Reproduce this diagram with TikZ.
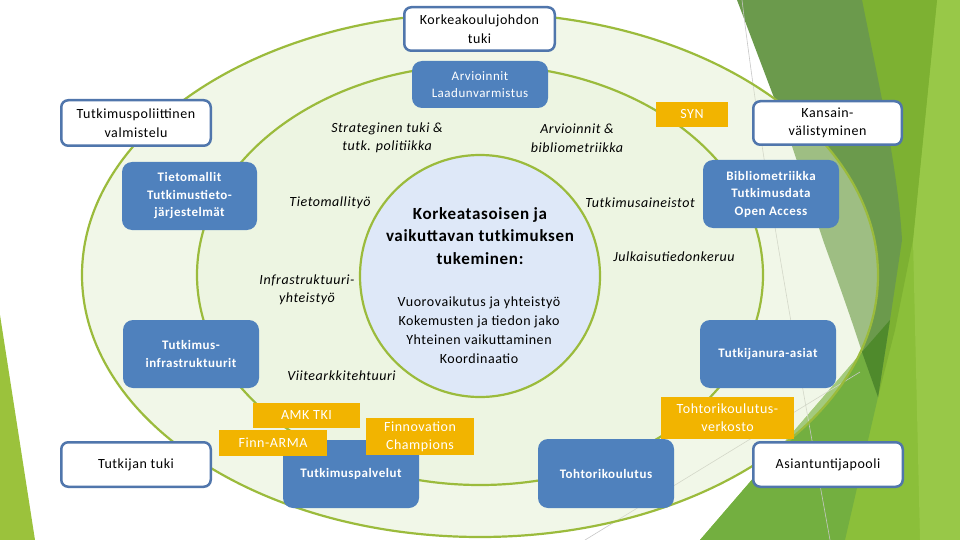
\documentclass[tikz,border=0pt]{standalone}
\usepackage{fontspec}
\setmainfont{Carlito}[LetterSpace=4]
\definecolor{bblue}{RGB}{79,129,189}
\definecolor{bborder}{RGB}{80,118,172}
\definecolor{yel}{RGB}{242,180,0}
\definecolor{eline}{RGB}{155,187,60}
\definecolor{efill}{RGB}{225,237,203}
\definecolor{cfill}{RGB}{222,232,248}
\definecolor{facetdark}{RGB}{107,154,76}
\definecolor{facetmid}{RGB}{125,177,50}
\definecolor{facetbase}{RGB}{139,191,58}
\definecolor{facetlight}{RGB}{152,200,72}
\definecolor{facetmed}{RGB}{115,175,64}
\definecolor{facetdeep}{RGB}{79,138,44}
\definecolor{facetstrip}{RGB}{155,194,60}
\newcommand\fsBox{\fontsize{14}{18.5}\selectfont}
\newcommand\fsBlue{\bfseries\fontsize{13}{17.5}\selectfont}
\newcommand\fsYel{\fontsize{14}{18}\selectfont}
\newcommand\fsIt{\itshape\fontsize{14}{18.5}\selectfont}
\begin{document}
\begin{tikzpicture}[x=1pt,y=-1pt,
  wbox/.style={draw=bborder, line width=2.5pt, fill=white, rounded corners=7pt, text=black, align=center, inner sep=0pt, font=\fsBox},
  bbox/.style={fill=bblue, rounded corners=10pt, text=white, align=center, inner sep=0pt, font=\fsBlue},
  ybox/.style={fill=yel, text=white, align=center, inner sep=0pt, font=\fsYel},
  lbl/.style={align=center, inner sep=0pt, font=\fsIt},
  ring/.style={draw=eline, line width=2.2pt},
  hairline/.style={draw=black!22, line width=0.6pt}
]
\useasboundingbox (0,0) rectangle (960,540);
\fill[white] (0,0) rectangle (960,540);
% background facets
\fill[facetstrip] (0,315) -- (35,540) -- (0,540) -- cycle;
\fill[facetbase] (862,0) rectangle (960,540);
\fill[facetbase] (700,540) -- (862,352) -- (862,540) -- cycle;
\fill[facetlight] (937,0) -- (960,0) -- (960,540) -- (920,540) -- (913,240) -- cycle;
\fill[facetmid] (862,0) -- (937,0) -- (913,240) -- (895,330) -- (878,397) -- cycle;
\fill[facetmed] (700,540) -- (862,352) -- (878,397) -- (845,540) -- cycle;
\fill[facetdark] (737,0) -- (862,0) .. controls (880,90) and (898,170) .. (902,240) -- (890,320) -- (878,397) -- (862,352) .. controls (845,300) and (830,260) .. (823,240) -- (790,140) -- cycle;
\fill[facetdeep] (862,352) -- (890,320) -- (878,397) -- cycle;
\draw[hairline] (742,0) .. controls (760,150) and (790,320) .. (830,540);
\draw[hairline] (585,540) -- (860,372);
% rings
\fill[efill, fill opacity=0.44] (480,275) ellipse [x radius=398pt, y radius=262pt];
\fill[efill, fill opacity=0.2] (480,275) ellipse [x radius=283pt, y radius=210pt];
\draw[ring] (480,275) ellipse [x radius=398pt, y radius=262pt];
\draw[ring] (480,275) ellipse [x radius=283pt, y radius=210pt];
\fill[cfill] (480,276) ellipse [x radius=120pt, y radius=121pt];
\draw[ring] (480,276) ellipse [x radius=120pt, y radius=121pt];
% centre text
\node[align=center, inner sep=0pt, font=\bfseries\fontsize{17}{22.5}\selectfont] (title) at (480,236) {Korkeatasoisen ja\\vaikuttavan tutkimuksen\\tukeminen:};
\node[align=center, inner sep=0pt, font=\fontsize{14}{19}\selectfont] (points) at (479,330.5) {Vuorovaikutus ja yhteistyö\\Kokemusten ja tiedon jako\\Yhteinen vaikuttaminen\\Koordinaatio};
% italic labels
\node[lbl] (strat) at (387,138) {Strateginen tuki \&\\tutk. politiikka};
\node[lbl] (tmt) at (330,203) {Tietomallityö};
\node[lbl] (arvb) at (577,138) {Arvioinnit \&\\bibliometriikka};
\node[lbl] (taine) at (640,203) {Tutkimusaineistot};
\node[lbl] (julk) at (674,257) {Julkaisutiedonkeruu};
\node[lbl] (infy) at (307,290) {Infrastruktuuri-\\yhteistyö};
\node[lbl] (viite) at (341.5,376) {Viitearkkitehtuuri};
% boxes
\node[wbox, minimum width=150.5pt, minimum height=43.5pt] (kj) at (479.5,29) {Korkeakoulujohdon\\tuki};
\node[bbox, minimum width=136pt, minimum height=47pt, font=\fontsize{13}{17}\selectfont] (arv) at (480,84.5) {Arvioinnit\\Laadunvarmistus};
\node[wbox, minimum width=149.5pt, minimum height=45.5pt] (tpv) at (136,123) {Tutkimuspoliittinen\\valmistelu};
\node[bbox, minimum width=135pt, minimum height=68pt] (tiet) at (189.5,196) {Tietomallit\\Tutkimustieto-\\järjestelmät};
\node[ybox, minimum width=72pt, minimum height=25pt] (syn) at (692,114.5) {SYN};
\node[wbox, minimum width=148.5pt, minimum height=43.5pt] (kv) at (827.5,123) {Kansain-\\välistyminen};
\node[bbox, minimum width=136pt, minimum height=68pt] (bib) at (771,194) {Bibliometriikka\\Tutkimusdata\\Open Access};
\node[bbox, minimum width=136pt, minimum height=68pt] (tinfra) at (191,354) {Tutkimus-\\infrastruktuurit};
\node[bbox, minimum width=136pt, minimum height=68pt] (tpalv) at (351,474) {Tutkimuspalvelut};
\node[ybox, minimum width=107pt, minimum height=25pt] (amk) at (306.5,415.5) {AMK TKI};
\node[ybox, minimum width=108pt, minimum height=26pt] (farma) at (273,443) {Finn-ARMA};
\node[ybox, minimum width=108pt, minimum height=37pt] (finno) at (420,436.5) {Finnovation\\Champions};
\node[wbox, minimum width=149.5pt, minimum height=44.5pt] (ttuki) at (136,464.5) {Tutkijan tuki};
\node[bbox, minimum width=136pt, minimum height=68pt] (tura) at (768,354) {Tutkijanura-asiat};
\node[bbox, minimum width=136pt, minimum height=69pt] (tkoul) at (606,473.5) {Tohtorikoulutus};
\node[ybox, minimum width=133pt, minimum height=42pt] (tkverk) at (727.5,418) {Tohtorikoulutus-\\verkosto};
\node[wbox, minimum width=149.5pt, minimum height=44.5pt] (atp) at (828,464.5) {Asiantuntijapooli};
\end{tikzpicture}
\end{document}
